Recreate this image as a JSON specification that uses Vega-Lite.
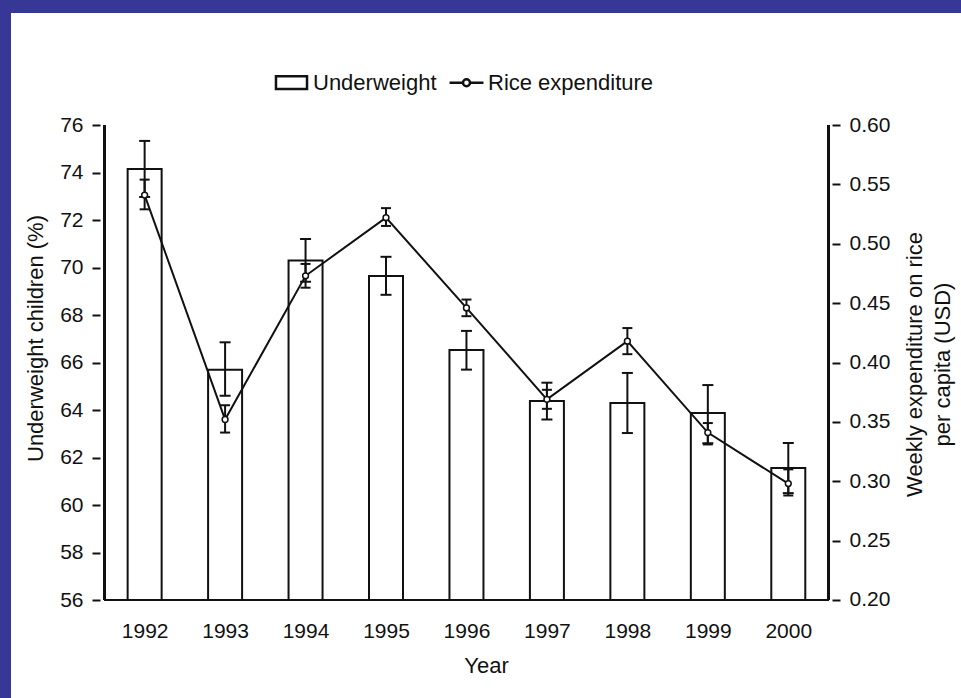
{
  "$schema": "https://vega.github.io/schema/vega-lite/v6.json",
  "width": 950,
  "height": 685,
  "autosize": {"type": "none"},
  "padding": {"left": 11, "top": 13, "right": 0, "bottom": 0},
  "background": "#373795",
  "config": {
    "view": {"fill": "white", "stroke": null},
    "font": "Liberation Sans",
    "axis": {
      "labelFont": "Liberation Sans",
      "titleFont": "Liberation Sans",
      "labelFontSize": 21,
      "titleFontSize": 22,
      "labelColor": "#111",
      "titleColor": "#111",
      "titleFontWeight": "normal",
      "grid": false,
      "tickColor": "#111",
      "tickWidth": 2,
      "tickSize": 8
    },
    "legend": {"labelFont": "Liberation Sans"}
  },
  "data": {
    "values": [
      {"year": 1992, "uw": 74.15, "uw_lo": 72.97, "uw_hi": 75.33, "rice": 0.541, "rice_lo": 0.529, "rice_hi": 0.554},
      {"year": 1993, "uw": 65.7, "uw_lo": 64.6, "uw_hi": 66.85, "rice": 0.352, "rice_lo": 0.341, "rice_hi": 0.364},
      {"year": 1994, "uw": 70.3, "uw_lo": 69.4, "uw_hi": 71.2, "rice": 0.473, "rice_lo": 0.463, "rice_hi": 0.483},
      {"year": 1995, "uw": 69.64, "uw_lo": 68.85, "uw_hi": 70.45, "rice": 0.522, "rice_lo": 0.515, "rice_hi": 0.53},
      {"year": 1996, "uw": 66.53, "uw_lo": 65.7, "uw_hi": 67.33, "rice": 0.446, "rice_lo": 0.439, "rice_hi": 0.453},
      {"year": 1997, "uw": 64.38, "uw_lo": 63.6, "uw_hi": 65.15, "rice": 0.369, "rice_lo": 0.361, "rice_hi": 0.377},
      {"year": 1998, "uw": 64.29, "uw_lo": 63.03, "uw_hi": 65.56, "rice": 0.418, "rice_lo": 0.407, "rice_hi": 0.429},
      {"year": 1999, "uw": 63.87, "uw_lo": 62.6, "uw_hi": 65.05, "rice": 0.341, "rice_lo": 0.331, "rice_hi": 0.349},
      {"year": 2000, "uw": 61.56, "uw_lo": 60.5, "uw_hi": 62.61, "rice": 0.298, "rice_lo": 0.288, "rice_hi": 0.31}
    ]
  },
  "encoding": {
    "x": {
      "field": "year",
      "type": "quantitative",
      "scale": {"domain": [1990.4012, 2002.0845], "nice": false, "zero": false},
      "axis": {
        "values": [1992, 1993, 1994, 1995, 1996, 1997, 1998, 1999, 2000],
        "format": "d",
        "offset": -98,
        "domain": false,
        "ticks": false,
        "tickSize": 0,
        "labelPadding": 20,
        "title": "Year",
        "titlePadding": 14
      }
    }
  },
  "layer": [
    {
      "mark": {"type": "bar", "fill": "white", "stroke": "#111", "strokeWidth": 2, "width": 34},
      "encoding": {
        "y": {
          "field": "uw",
          "type": "quantitative",
          "scale": {"domain": [51.8737, 80.7158], "nice": false, "zero": false},
          "axis": {
            "orient": "left",
            "offset": -89,
            "domain": false,
            "values": [56, 58, 60, 62, 64, 66, 68, 70, 72, 74, 76],
            "labelPadding": 9,
            "title": "Underweight children (%)",
            "titleAngle": 270,
            "titleBaseline": "bottom",
            "titleX": -53,
            "titleY": 325
          }
        },
        "y2": {"datum": 56}
      }
    },
    {
      "mark": {"type": "rule", "color": "#111", "strokeWidth": 2},
      "encoding": {
        "x": {"datum": 1991.5},
        "y": {"datum": 56, "scale": {"domain": [51.8737, 80.7158], "nice": false, "zero": false}, "axis": null},
        "y2": {"datum": 76}
      }
    },
    {
      "mark": {"type": "rule", "color": "#111", "strokeWidth": 2},
      "encoding": {
        "x": {"datum": 2000.5},
        "y": {"datum": 56, "scale": {"domain": [51.8737, 80.7158], "nice": false, "zero": false}, "axis": null},
        "y2": {"datum": 76}
      }
    },
    {
      "mark": {"type": "rule", "color": "#111", "strokeWidth": 2},
      "encoding": {
        "x": {"datum": 1991.5},
        "x2": {"datum": 2000.5},
        "y": {"datum": 56, "scale": {"domain": [51.8737, 80.7158], "nice": false, "zero": false}, "axis": null}
      }
    },
    {
      "mark": {"type": "rule", "color": "#111", "strokeWidth": 2},
      "encoding": {
        "y": {"field": "uw_lo", "type": "quantitative", "scale": {"domain": [51.8737, 80.7158], "nice": false, "zero": false}, "axis": null},
        "y2": {"field": "uw_hi"}
      }
    },
    {
      "mark": {"type": "tick", "orient": "horizontal", "color": "#111", "size": 11, "thickness": 2, "opacity": 1},
      "encoding": {"y": {"field": "uw_lo", "type": "quantitative", "scale": {"domain": [51.8737, 80.7158], "nice": false, "zero": false}, "axis": null}}
    },
    {
      "mark": {"type": "tick", "orient": "horizontal", "color": "#111", "size": 11, "thickness": 2, "opacity": 1},
      "encoding": {"y": {"field": "uw_hi", "type": "quantitative", "scale": {"domain": [51.8737, 80.7158], "nice": false, "zero": false}, "axis": null}}
    },
    {
      "mark": {"type": "line", "color": "#111", "strokeWidth": 2},
      "encoding": {
        "y": {
          "field": "rice",
          "type": "quantitative",
          "scale": {"domain": [0.11747, 0.69432], "nice": false, "zero": false},
          "axis": {
            "orient": "right",
            "offset": -129,
            "domain": false,
            "values": [0.2, 0.25, 0.3, 0.35, 0.4, 0.45, 0.5, 0.55, 0.6],
            "format": ".2f",
            "labelPadding": 9,
            "title": ["Weekly expenditure on rice", "per capita (USD)"],
            "titleAngle": 270,
            "titleBaseline": "top",
            "titleLineHeight": 28,
            "titleX": 72,
            "titleY": 351
          }
        }
      }
    },
    {
      "mark": {"type": "rule", "color": "#111", "strokeWidth": 2},
      "encoding": {
        "y": {"field": "rice_lo", "type": "quantitative", "scale": {"domain": [0.11747, 0.69432], "nice": false, "zero": false}, "axis": null},
        "y2": {"field": "rice_hi"}
      }
    },
    {
      "mark": {"type": "tick", "orient": "horizontal", "color": "#111", "size": 10, "thickness": 2, "opacity": 1},
      "encoding": {"y": {"field": "rice_lo", "type": "quantitative", "scale": {"domain": [0.11747, 0.69432], "nice": false, "zero": false}, "axis": null}}
    },
    {
      "mark": {"type": "tick", "orient": "horizontal", "color": "#111", "size": 10, "thickness": 2, "opacity": 1},
      "encoding": {"y": {"field": "rice_hi", "type": "quantitative", "scale": {"domain": [0.11747, 0.69432], "nice": false, "zero": false}, "axis": null}}
    },
    {
      "mark": {"type": "point", "shape": "circle", "filled": true, "fill": "white", "stroke": "#111", "strokeWidth": 1.5, "size": 34, "opacity": 1},
      "encoding": {"y": {"field": "rice", "type": "quantitative", "scale": {"domain": [0.11747, 0.69432], "nice": false, "zero": false}, "axis": null}}
    },
    {
      "data": {"values": [{"series": "Underweight"}, {"series": "Rice expenditure"}]},
      "mark": {"type": "point", "filled": false, "color": "#111", "strokeWidth": 2, "opacity": 0},
      "encoding": {
        "x": {"value": 0},
        "y": {"value": 0},
        "shape": {
          "field": "series",
          "type": "nominal",
          "scale": {
            "domain": ["Underweight", "Rice expenditure"],
            "range": [
              "M-0.97,-0.4H0.97V0.4H-0.97Z",
              "M-1.06,0H-0.22M0.22,0H1.06M-0.22,0A0.22,0.22 0 1,1 0.22,0A0.22,0.22 0 1,1 -0.22,0"
            ]
          },
          "legend": {
            "orient": "none",
            "legendX": 263,
            "legendY": 52,
            "direction": "horizontal",
            "title": null,
            "padding": 0,
            "symbolSize": 1024,
            "symbolStrokeWidth": 2.5,
            "symbolStrokeColor": "#111",
            "symbolFillColor": "white",
            "symbolOpacity": 1,
            "labelFontSize": 22,
            "labelColor": "#111",
            "labelLimit": 400,
            "labelOffset": 4,
            "columnPadding": 7,
            "encode": {"symbols": {"update": {"opacity": {"value": 1}}}}
          }
        }
      }
    }
  ],
  "resolve": {"scale": {"y": "independent"}}
}
